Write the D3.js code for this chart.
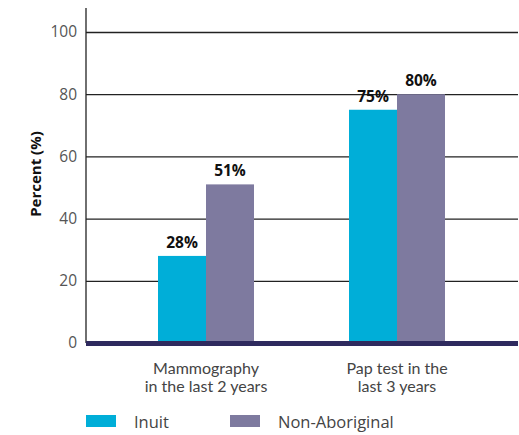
<!DOCTYPE html>
<html>
<head>
<meta charset="utf-8">
<script src="https://cdn.jsdelivr.net/npm/d3@7"></script>
<style>
  body { margin: 0; background: #fff; }
  svg { display: block; font-family: "Open Sans", "Noto Sans", sans-serif; }
  .y.axis .domain { display: none; }
  .y.axis .tick line { stroke: #222; stroke-width: 1.3; }
  .y.axis .tick text { fill: #555; font-size: 15.5px; font-family: "Open Sans", "Noto Sans", sans-serif; }
</style>
</head>
<body>
<svg width="519" height="435"></svg>
<script>
// Data
var categories = ["Mammography|in the last 2 years", "Pap test in the|last 3 years"]
  , seriesNames = ["Inuit", "Non-Aboriginal"]
  , inuit = [28, 75]
  , nonAboriginal = [51, 80]
  , yTicks = [0, 20, 40, 60, 80, 100]
  , colors = ["#00aed8", "#7e7a9f"]
;

var svg = d3.select("svg")
  , margin = { left: 86, right: 1, top: 32, bottom: 92 }
  , width = 519 - margin.left - margin.right
  , height = 435 - margin.top - margin.bottom
  , g = svg.append("g").attr("transform", "translate(" + [margin.left, margin.top] + ")")
;

// Category centres sit at fixed spots in the source layout
var x0 = d3.scalePoint().domain(categories).range([120, 311])
  , x1 = d3.scaleBand().domain(seriesNames).range([-48, 48])
  , y = d3.scaleLinear().domain([0, 100]).range([height, 0])
;

// Gridlines + labels
g.append("g").attr("class", "y axis")
  .call(d3.axisLeft(y).tickValues(yTicks).tickSize(-width).tickPadding(8))
  .call(function(s){ s.selectAll(".tick text").attr("x", -9); });

// Vertical axis line
g.append("line")
  .attr("x1", 0).attr("x2", 0)
  .attr("y1", -24).attr("y2", height)
  .attr("stroke", "#222").attr("stroke-width", 1.3);

var data = categories.map(function(c, i){
  return { cat: c, vals: [inuit[i], nonAboriginal[i]] };
});

var groups = g.selectAll(".grp").data(data).enter().append("g")
  .attr("transform", function(d){ return "translate(" + x0(d.cat) + ",0)"; });

function pairs(d){ return d.vals.map(function(v, k){ return { k: k, v: v }; }); }

groups.selectAll("rect").data(pairs)
  .enter().append("rect")
  .attr("x", function(d){ return x1(seriesNames[d.k]); })
  .attr("width", x1.bandwidth())
  .attr("y", function(d){ return y(d.v); })
  .attr("height", function(d){ return height - y(d.v); })
  .attr("fill", function(d){ return colors[d.k]; });

groups.selectAll(".val").data(pairs)
  .enter().append("text")
  .attr("x", function(d){ return x1(seriesNames[d.k]) + x1.bandwidth() / 2; })
  .attr("y", function(d){ return y(d.v) - 8; })
  .attr("text-anchor", "middle")
  .attr("font-size", 15.5).attr("font-weight", 700).attr("fill", "#111")
  .text(function(d){ return d.v + "%"; });

// Baseline
g.append("rect")
  .attr("x", 0).attr("y", height - 2)
  .attr("width", width).attr("height", 5)
  .attr("fill", "#2e2a5e");

// Category labels
data.forEach(function(d){
  d.cat.split("|").forEach(function(line, j){
    g.append("text")
      .attr("x", x0(d.cat)).attr("y", height + 31 + j * 17.5)
      .attr("text-anchor", "middle")
      .attr("font-family", "Lato, 'Open Sans', sans-serif")
      .attr("font-size", 16).attr("fill", "#444")
      .text(line);
  });
});

// Y title
svg.append("text")
  .attr("transform", "translate(41,174) rotate(-90)")
  .attr("text-anchor", "middle")
  .attr("font-size", 15).attr("font-weight", 700).attr("fill", "#111")
  .text("Percent (%)");

// Legend
var legendX = [86, 230];
seriesNames.forEach(function(n, k){
  var lg = svg.append("g").attr("transform", "translate(" + legendX[k] + ",415)");
  lg.append("rect").attr("width", 30).attr("height", 12).attr("fill", colors[k]);
  lg.append("text").attr("x", 48).attr("y", 13)
    .attr("font-size", 16.5).attr("fill", "#444").text(n);
});
</script>
</body>
</html>
